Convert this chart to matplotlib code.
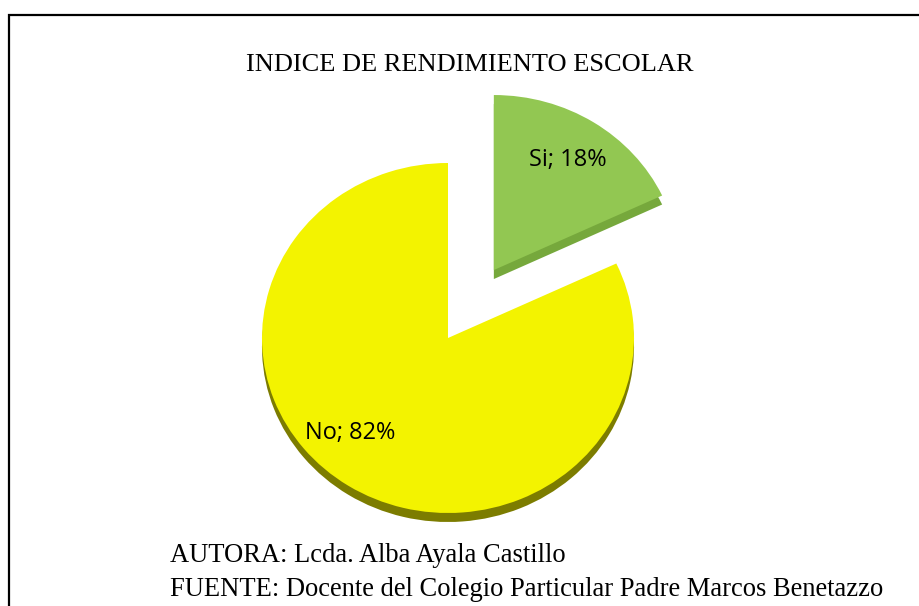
import matplotlib
matplotlib.use("Agg")
import matplotlib.pyplot as plt
from matplotlib.patches import Rectangle

categories = ["Si", "No"]
values = [18, 82]
title = "INDICE DE RENDIMIENTO ESCOLAR"
footer = ["AUTORA: Lcda. Alba Ayala Castillo",
          "FUENTE: Docente del Colegio Particular Padre Marcos Benetazzo"]

W, H = 920, 606
fig = plt.figure(figsize=(W / 100, H / 100), dpi=100)
fig.patch.set_facecolor("white")

k = 186 / 175  # vertical squash of the pie (data y per pixel)
ax = fig.add_axes([0, 0, 1, 1])

cx, cy = 448, (H - 338) * k
r = 186
explode = [0.46 * r, 0.0]
face = ["#92C752", "#F3F300"]
side = ["#76A83C", "#7C7C00"]
depth = 9 * k

# thickness (drawn first, shifted downwards)
ax.pie(values, explode=explode, startangle=90, counterclock=False,
       colors=side, radius=r, center=(cx, cy - depth), frame=True,
       wedgeprops=dict(linewidth=0))
wedges, _ = ax.pie(values, explode=explode, startangle=90, counterclock=False,
                   colors=face, radius=r, center=(cx, cy), frame=True,
                   wedgeprops=dict(linewidth=0))
ax.set_xlim(0, W)
ax.set_ylim(0, H * k)
ax.set_aspect("auto")
ax.axis("off")

lab_pos = [(568, 160), (350, 433)]
for c, v, (px, py) in zip(categories, values, lab_pos):
    fig.text(px / W, 1 - py / H, f"{c}; {v}%", ha="center", va="center",
             fontsize=17, family="Open Sans", color="black")

fig.text(470 / W, 1 - 65 / H, title, ha="center", va="center",
         fontsize=19, family="Liberation Serif")
fig.text(170 / W, 1 - 556 / H, footer[0], ha="left", va="center",
         fontsize=19.1, family="Liberation Serif")
fig.text(170 / W, 1 - 589 / H, footer[1], ha="left", va="center",
         fontsize=19.1, family="Liberation Serif")

fig.patches.append(Rectangle((9.5 / W, -0.1), 1.2, 1 - 15.5 / H + 0.1,
                             transform=fig.transFigure, fill=False,
                             edgecolor="black", linewidth=1.6))

fig.savefig("out.png", dpi=100)
